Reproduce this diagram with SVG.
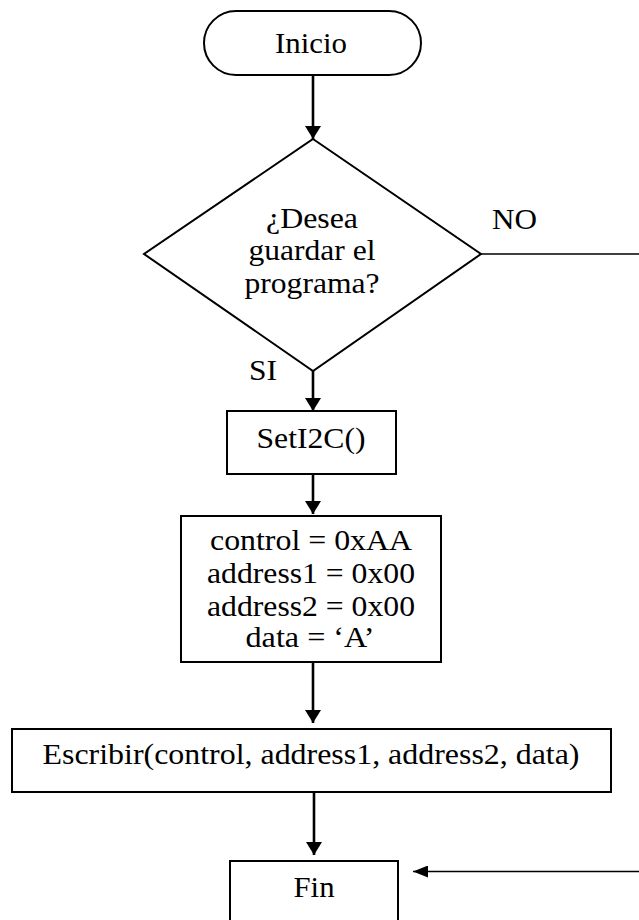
<svg xmlns="http://www.w3.org/2000/svg" width="639" height="920" viewBox="0 0 639 920">
  <style>
    .shape { fill: #ffffff; stroke: #000000; stroke-width: 2; }
    .label { font-family: "Liberation Serif", "Times New Roman", serif; font-size: 30px; fill: #000000; text-anchor: middle; }
    .small { font-size: 29px; }
    .side { font-family: "Liberation Serif", "Times New Roman", serif; font-size: 30px; fill: #000000; }
    .flow { fill: none; stroke: #000000; stroke-width: 2.6; }
    .thin { fill: none; stroke: #000000; stroke-width: 1.6; }
  </style>
  <defs>
    <marker id="arrow" markerUnits="userSpaceOnUse" markerWidth="16" markerHeight="16" refX="13" refY="8" orient="auto">
      <path d="M0,0 L13,8 L0,16 Z" fill="#000000"/>
    </marker>
    <marker id="arrowSmall" markerUnits="userSpaceOnUse" markerWidth="16" markerHeight="12" refX="15" refY="6" orient="auto">
      <path d="M0,0 L15,6 L0,12 Z" fill="#000000"/>
    </marker>
  </defs>
  <rect width="639" height="920" fill="#ffffff"/>

  <!-- connectors -->
  <g id="connectors">
    <line class="flow" x1="313" y1="75" x2="313" y2="139" marker-end="url(#arrow)"/>
    <line class="flow" x1="313" y1="371" x2="313" y2="411" marker-end="url(#arrow)"/>
    <line class="flow" x1="313" y1="474" x2="313" y2="514" marker-end="url(#arrow)"/>
    <line class="flow" x1="313" y1="662" x2="313" y2="723" marker-end="url(#arrow)"/>
    <line class="flow" x1="314" y1="792" x2="314" y2="855" marker-end="url(#arrow)"/>
    <!-- NO branch: leaves the decision to the right, returns into Fin -->
    <line class="thin" x1="481" y1="254" x2="639" y2="254"/>
    <line class="thin" x1="639" y1="871.5" x2="413" y2="871.5" marker-end="url(#arrowSmall)"/>
    <text class="side" x="492" y="229" textLength="45" lengthAdjust="spacingAndGlyphs">NO</text>
    <text class="side" x="249" y="380" textLength="28" lengthAdjust="spacingAndGlyphs">SI</text>
  </g>

  <g id="inicio">
    <rect class="shape" x="204" y="11" width="217" height="64" rx="32" ry="32"/>
    <text class="label" x="311" y="53" textLength="72" lengthAdjust="spacingAndGlyphs">Inicio</text>
  </g>

  <g id="decision">
    <polygon class="shape" points="313,139 481,254 313,371 144,254"/>
    <text class="label" x="312" y="228" textLength="92" lengthAdjust="spacingAndGlyphs">¿Desea</text>
    <text class="label" x="312" y="260" textLength="127" lengthAdjust="spacingAndGlyphs">guardar el</text>
    <text class="label" x="312" y="293" textLength="135" lengthAdjust="spacingAndGlyphs">programa?</text>
  </g>

  <g id="seti2c">
    <rect class="shape" x="227" y="411" width="169" height="63"/>
    <text class="label" x="311" y="448" textLength="109" lengthAdjust="spacingAndGlyphs">SetI2C()</text>
  </g>

  <g id="asignaciones">
    <rect class="shape" x="181" y="516" width="260" height="146"/>
    <text class="label small" x="311" y="550" textLength="202" lengthAdjust="spacingAndGlyphs">control = 0xAA</text>
    <text class="label small" x="311" y="583" textLength="208" lengthAdjust="spacingAndGlyphs">address1 = 0x00</text>
    <text class="label small" x="311" y="616" textLength="208" lengthAdjust="spacingAndGlyphs">address2 = 0x00</text>
    <text class="label small" x="310" y="647" textLength="129" lengthAdjust="spacingAndGlyphs">data = ‘A’</text>
  </g>

  <g id="escribir">
    <rect class="shape" x="12" y="729" width="599" height="63"/>
    <text class="label" x="311" y="764" textLength="537" lengthAdjust="spacingAndGlyphs">Escribir(control, address1, address2, data)</text>
  </g>

  <g id="fin">
    <rect class="shape" x="230" y="861" width="168" height="70"/>
    <text class="label" x="314" y="897" textLength="41" lengthAdjust="spacingAndGlyphs">Fin</text>
  </g>
</svg>
